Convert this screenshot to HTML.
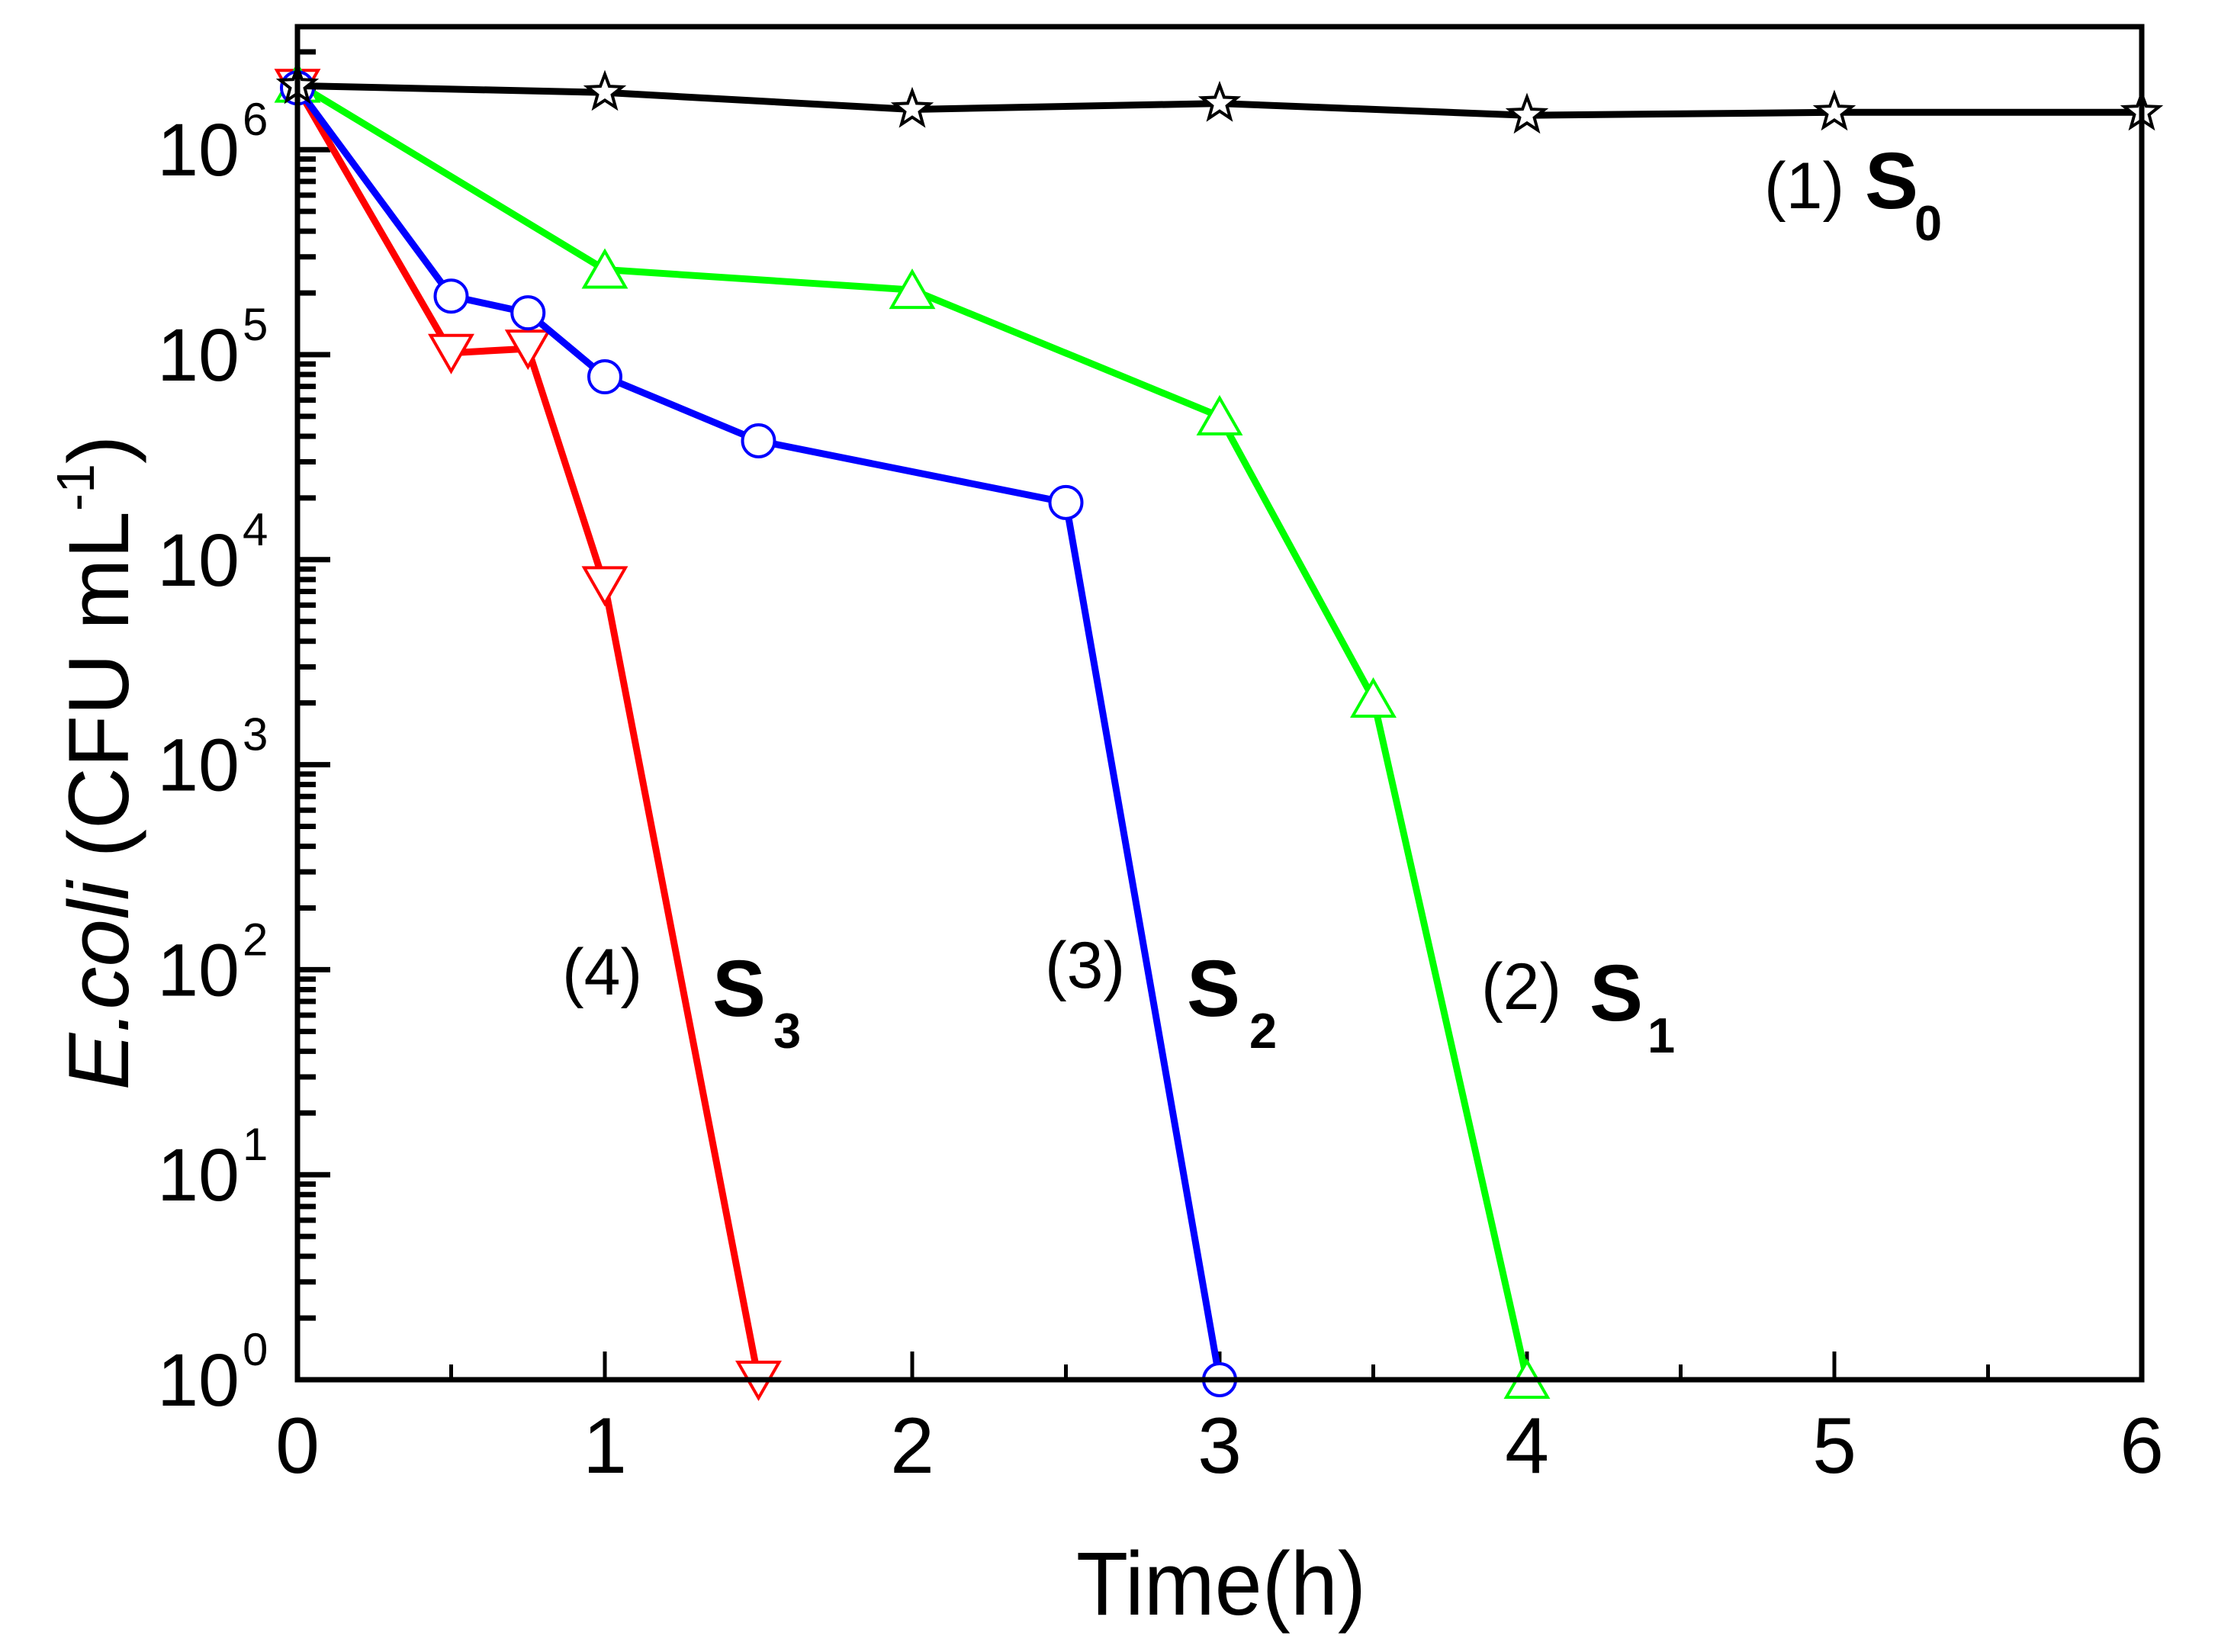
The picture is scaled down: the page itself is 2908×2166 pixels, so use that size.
<!DOCTYPE html>
<html><head><meta charset="utf-8"><style>
html,body{margin:0;padding:0;background:#fff;}
svg{display:block;}
text{font-family:"Liberation Sans",Arial,sans-serif;fill:#000;}
</style></head><body>
<svg id="chart" width="2908" height="2166" viewBox="0 0 2908 2166" xmlns="http://www.w3.org/2000/svg">
<g id="ticks"></g>
<g id="series"></g>
<rect x="390" y="35" width="2418" height="1774" fill="none" stroke="#000" stroke-width="7"/>
<g id="labels"></g>
<text x="1601" y="2117" font-size="118" text-anchor="middle" textLength="380" lengthAdjust="spacingAndGlyphs">Time(h)</text>
<text transform="translate(168,1000) rotate(-90)" font-size="112" text-anchor="middle"><tspan font-style="italic">E.coli</tspan> (CFU mL<tspan font-size="70" dy="-45">-1</tspan><tspan dy="45">)</tspan></text>
<g><text x="2313" y="273" font-size="86">(1)</text><text x="2445" y="273" font-size="105" font-weight="bold">S</text><text x="2510" y="315" font-size="65" font-weight="bold">0</text></g>
<g><text x="1942" y="1323" font-size="86">(2)</text><text x="2084" y="1338" font-size="105" font-weight="bold">S</text><text x="2160" y="1380" font-size="65" font-weight="bold">1</text></g>
<g><text x="1370" y="1295" font-size="86">(3)</text><text x="1556" y="1332" font-size="105" font-weight="bold">S</text><text x="1638" y="1374" font-size="65" font-weight="bold">2</text></g>
<g><text x="737" y="1304" font-size="86">(4)</text><text x="934" y="1332" font-size="105" font-weight="bold">S</text><text x="1014" y="1374" font-size="65" font-weight="bold">3</text></g>
</svg>
<script>
const xTicks=[0,1,2,3,4,5,6];
const yDecades=[0,1,2,3,4,5,6];
const s0T=[0,1,2,3,4,5,6];
const s0V=[2.05e6,1.9e6,1.57e6,1.68e6,1.47e6,1.52e6,1.52e6];
const s1T=[0,1,2,3,3.5,4];
const s1V=[2.1e6,2.6e5,2.07e5,5e4,2.1e3,1];
const s2T=[0,0.5,0.75,1,1.5,2.5,3];
const s2V=[2e6,1.93e5,1.6e5,7.8e4,3.8e4,1.9e4,1];
const s3T=[0,0.5,0.75,1,1.5];
const s3V=[2e6,1.02e5,1.07e5,7.5e3,1];
const NS="http://www.w3.org/2000/svg";
const X0=390,X1=2808,Y0=1809,DEC=268.8;
function sx(t){return X0+(X1-X0)*t/6;}
function sy(v){return Y0-DEC*Math.log10(v);}
function mk(tag,attrs,parent){const e=document.createElementNS(NS,tag);for(const k in attrs)e.setAttribute(k,attrs[k]);parent.appendChild(e);return e;}
const tk=document.getElementById('ticks'),lb=document.getElementById('labels'),sr=document.getElementById('series');
xTicks.forEach(t=>{
  const l=mk('line',{x1:sx(t),x2:sx(t),y1:Y0,y2:Y0-37,stroke:'#000','stroke-width':5},tk);
  
  
  if(t<6){const m=mk('line',{x1:sx(t+0.5),x2:sx(t+0.5),y1:Y0,y2:Y0-20,stroke:'#000','stroke-width':5},tk);
  
  }
  const tx=mk('text',{x:sx(t),y:1931,'font-size':104,'text-anchor':'middle'},lb);
  tx.textContent=String(t);
  
  
});
yDecades.forEach(d=>{
  const y=sy(Math.pow(10,d));
  const l=mk('line',{x1:X0,x2:X0+43,y1:y,y2:y,stroke:'#000','stroke-width':7},tk);
  
  
  for(let k=2;k<=9;k++){const v=k*Math.pow(10,d);if(sy(v)<38)break;
    const m=mk('line',{x1:X0,x2:X0+24,y1:sy(v),y2:sy(v),stroke:'#000','stroke-width':7},tk);
    
    }
  const tx=mk('text',{x:314,y:y+34,'font-size':97,'text-anchor':'end'},lb);
  tx.textContent='10';
  
  
  const sp=mk('text',{x:318,y:y-19,'font-size':60},lb);
  sp.textContent=String(d);
  
  
});
function star(cx,cy,R){let p=[];for(let i=0;i<10;i++){const r=i%2?R*0.42:R;const a=-Math.PI/2+i*Math.PI/5;p.push((cx+r*Math.cos(a)).toFixed(1)+','+(cy+r*Math.sin(a)).toFixed(1));}return p.join(' ');}
function drawSeries(T,V,color,kind,name){
  const g=mk('g',{},sr);
  
  
  const pts=T.map((t,i)=>sx(t).toFixed(1)+','+sy(V[i]).toFixed(1)).join(' ');
  const pl=mk('polyline',{points:pts,fill:'none',stroke:color,'stroke-width':9,'stroke-linejoin':'round'},g);
  
  
  T.forEach((t,i)=>{const cx=sx(t),cy=sy(V[i]);let m;
    if(kind==='star')m=mk('polygon',{points:star(cx,cy,24),fill:'#fff',stroke:color,'stroke-width':4},g);
    else if(kind==='circle')m=mk('circle',{cx:cx,cy:cy,r:21,fill:'#fff',stroke:color,'stroke-width':4},g);
    else if(kind==='up')m=mk('polygon',{points:`${cx},${cy-24} ${cx+27},${cy+23} ${cx-27},${cy+23}`,fill:'#fff',stroke:color,'stroke-width':4},g);
    else m=mk('polygon',{points:`${cx},${cy+24} ${cx+27},${cy-23} ${cx-27},${cy-23}`,fill:'#fff',stroke:color,'stroke-width':4},g);
    
    
  });
}
drawSeries(s3T,s3V,'#ff0000','down','series-s3');
drawSeries(s1T,s1V,'#00ff00','up','series-s1');
drawSeries(s2T,s2V,'#0000ff','circle','series-s2');
drawSeries(s0T,s0V,'#000000','star','series-s0');
</script>
</body></html>
